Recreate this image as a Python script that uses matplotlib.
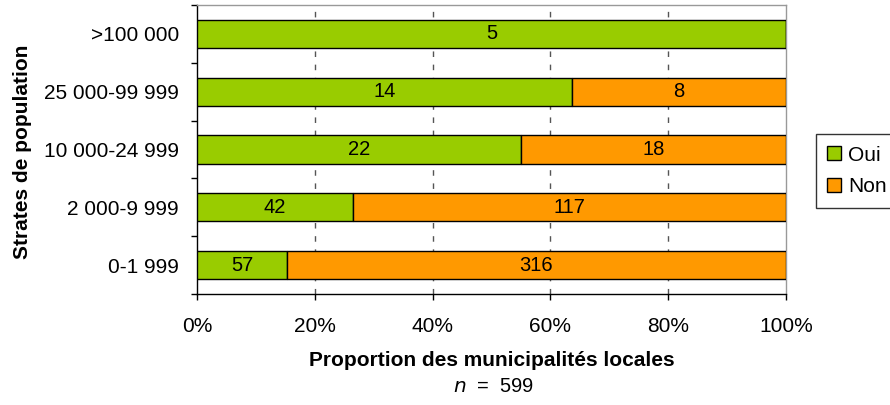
import matplotlib
matplotlib.use("Agg")
import matplotlib.pyplot as plt
import numpy as np

categories = ["0-1 999", "2 000-9 999", "10 000-24 999", "25 000-99 999", ">100 000"]
oui = [57, 42, 22, 14, 5]
non = [316, 117, 18, 8, 0]
xticks = [0, 20, 40, 60, 80, 100]
xticklabels = ["0%", "20%", "40%", "60%", "80%", "100%"]

plt.rcParams['font.family'] = ['Liberation Sans', 'DejaVu Sans']

green = "#99CC00"
orange = "#FF9900"

fig = plt.figure(figsize=(8.9, 4.05), dpi=100)
ax = fig.add_axes([197/890, 1-294/405, (786-197)/890, (294-5)/405])

oui_a = np.array(oui, float)
non_a = np.array(non, float)
tot = oui_a + non_a
p_oui = oui_a / tot * 100
p_non = non_a / tot * 100
y = np.arange(len(categories))
h = 0.485

ax.barh(y, p_oui, height=h, color=green, edgecolor="black", linewidth=1.0, label="Oui", zorder=3)
ax.barh(y, p_non, left=p_oui, height=h, color=orange, edgecolor="black", linewidth=1.0, label="Non", zorder=3)

for i in range(len(categories)):
    if oui[i] > 0:
        ax.text(p_oui[i]/2, y[i], str(oui[i]), ha="center", va="center", fontsize=14.5, zorder=4)
    if non[i] > 0:
        ax.text(p_oui[i] + p_non[i]/2, y[i], str(non[i]), ha="center", va="center", fontsize=14.5, zorder=4)

ax.set_xlim(0, 100)
ax.set_ylim(-0.5, len(categories)-0.5)
ax.set_xticks(xticks)
ax.set_xticklabels(xticklabels, fontsize=15)
ax.set_yticks(y)
ax.set_yticklabels(categories, fontsize=15)
ax.tick_params(axis="y", which="major", length=0, pad=13)
ax.set_yticks(np.arange(-0.5, len(categories), 1.0), minor=True)
ax.tick_params(axis="y", which="minor", length=4.5, width=1, direction="out")
ax.tick_params(axis="x", which="major", length=4.5, width=1, direction="out", pad=12)

for xv in xticks[1:-1]:
    ax.axvline(xv, color="#555555", linestyle=(0, (4, 5.5)), linewidth=1, zorder=1)

ax.spines["left"].set_color("black")
ax.spines["bottom"].set_color("black")
ax.spines["top"].set_color("#999999")
ax.spines["right"].set_color("#999999")
for s in ax.spines.values():
    s.set_linewidth(1)

ax.set_xlabel("Proportion des municipalités locales", fontsize=15, fontweight="bold")
ax.xaxis.label.set_va("center")
ax.xaxis.set_label_coords(0.5, (294-360)/289)
ax.set_ylabel("Strates de population", fontsize=15, fontweight="bold")
ax.yaxis.label.set_va("center")
ax.yaxis.set_label_coords((22-197)/589, (294-152)/289)
fig.text(494/890, 1-386/405, r"$\it{n}$  =  599", ha="center", va="center", fontsize=14.5)

leg = ax.legend(loc="center left", bbox_to_anchor=(816/890, 1-171/405), bbox_transform=fig.transFigure,
                fontsize=15, frameon=True, fancybox=False, edgecolor="black",
                handlelength=0.65, handleheight=0.65, handletextpad=0.35, borderpad=0.55, labelspacing=0.6,
                borderaxespad=0)
leg.get_frame().set_linewidth(1)

fig.savefig("out.png", dpi=100)
